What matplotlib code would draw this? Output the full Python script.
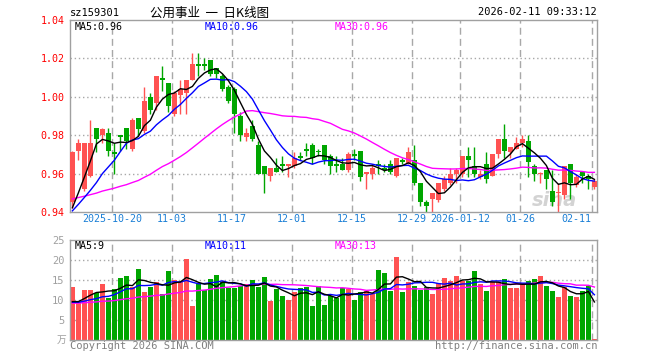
import matplotlib
matplotlib.use('Agg')
import matplotlib.pyplot as plt
import numpy as np
import pandas as pd

# ---------------- data ----------------
holidays = ['2026-01-01', '2026-01-02']
open_ = [0.945, 0.972, 0.952, 0.959, 0.984, 0.980, 0.981, 0.971, 0.980, 0.984,
         0.973, 0.989, 0.982, 1.000, 0.997, 1.010, 1.007, 0.991, 1.001, 1.002,
         1.009, 1.017, 1.017, 1.019, 1.015, 1.011, 1.005, 1.004, 0.990, 0.979,
         0.985, 0.975, 0.964, 0.959, 0.963, 0.965, 0.964, 0.964, 0.969, 0.973,
         0.975, 0.972, 0.975, 0.969, 0.965, 0.965, 0.962, 0.970, 0.972, 0.960,
         0.960, 0.965, 0.963, 0.965, 0.959, 0.967, 0.965, 0.967, 0.955, 0.945,
         0.947, 0.946, 0.952, 0.955, 0.960, 0.960, 0.969, 0.964, 0.958, 0.965,
         0.959, 0.970, 0.978, 0.971, 0.973, 0.976, 0.977, 0.964, 0.960, 0.962,
         0.951, 0.950, 0.949, 0.965, 0.954, 0.961, 0.959, 0.953]
high = [0.972, 0.978, 0.976, 0.988, 0.984, 0.984, 0.984, 0.976, 0.980, 0.984,
        0.989, 0.989, 1.005, 1.002, 1.011, 1.016, 1.007, 1.003, 1.009, 1.009,
        1.023, 1.023, 1.020, 1.019, 1.015, 1.012, 1.006, 1.005, 0.992, 0.984,
        0.988, 0.977, 0.964, 0.963, 0.968, 0.969, 0.965, 0.971, 0.971, 0.976,
        0.976, 0.973, 0.975, 0.970, 0.969, 0.968, 0.971, 0.973, 0.972, 0.961,
        0.965, 0.967, 0.965, 0.967, 0.968, 0.968, 0.974, 0.975, 0.955, 0.946,
        0.950, 0.955, 0.959, 0.963, 0.963, 0.969, 0.974, 0.974, 0.962, 0.971,
        0.970, 0.978, 0.986, 0.974, 0.979, 0.980, 0.980, 0.965, 0.961, 0.962,
        0.962, 0.955, 0.964, 0.965, 0.960, 0.961, 0.960, 0.957]
low = [0.942, 0.967, 0.951, 0.958, 0.971, 0.976, 0.969, 0.960, 0.972, 0.973,
       0.972, 0.980, 0.981, 0.991, 0.993, 1.003, 0.992, 0.990, 0.991, 0.991,
       1.009, 1.011, 1.014, 1.011, 1.010, 1.003, 0.997, 0.981, 0.977, 0.977,
       0.977, 0.960, 0.950, 0.956, 0.961, 0.961, 0.958, 0.963, 0.967, 0.969,
       0.965, 0.969, 0.965, 0.960, 0.961, 0.962, 0.961, 0.967, 0.956, 0.952,
       0.957, 0.960, 0.961, 0.960, 0.958, 0.965, 0.965, 0.954, 0.943, 0.940,
       0.940, 0.945, 0.951, 0.954, 0.955, 0.958, 0.958, 0.958, 0.957, 0.955,
       0.959, 0.968, 0.968, 0.968, 0.973, 0.974, 0.958, 0.956, 0.955, 0.952,
       0.943, 0.940, 0.947, 0.947, 0.953, 0.955, 0.952, 0.952]
close = [0.971, 0.976, 0.976, 0.976, 0.978, 0.983, 0.972, 0.970, 0.979, 0.977,
         0.988, 0.983, 0.998, 0.993, 1.011, 1.009, 0.995, 1.002, 1.004, 1.009,
         1.017, 1.016, 1.016, 1.012, 1.012, 1.004, 0.998, 0.991, 0.980, 0.981,
         0.978, 0.960, 0.960, 0.963, 0.961, 0.964, 0.965, 0.968, 0.968, 0.972,
         0.968, 0.971, 0.967, 0.964, 0.964, 0.962, 0.970, 0.969, 0.958, 0.961,
         0.963, 0.964, 0.962, 0.961, 0.968, 0.966, 0.971, 0.955, 0.945, 0.943,
         0.950, 0.955, 0.957, 0.960, 0.962, 0.969, 0.967, 0.960, 0.960, 0.957,
         0.970, 0.978, 0.972, 0.974, 0.976, 0.978, 0.966, 0.960, 0.960, 0.957,
         0.945, 0.950, 0.964, 0.955, 0.958, 0.959, 0.957, 0.956]
volume = [13.2, 9.4, 12.4, 12.6, 11.8, 13.9, 10.5, 12.8, 15.6, 15.9,
          13.2, 17.7, 12.0, 13.3, 14.6, 11.4, 17.2, 14.9, 14.5, 20.2,
          8.6, 13.9, 12.6, 15.2, 16.2, 14.5, 12.9, 12.9, 13.6, 13.9,
          14.9, 13.2, 15.7, 9.7, 12.8, 10.9, 9.9, 12.0, 12.9, 13.3,
          8.6, 13.6, 8.8, 11.1, 10.5, 13.0, 12.8, 10.1, 12.0, 12.2,
          11.5, 17.4, 16.8, 12.2, 20.7, 12.0, 14.5, 13.5, 12.5, 13.2,
          11.4, 14.3, 15.4, 14.7, 15.9, 14.7, 14.7, 17.2, 13.9, 12.2,
          14.5, 14.5, 15.2, 13.0, 13.0, 13.9, 14.7, 15.2, 15.9, 13.5,
          12.2, 10.7, 13.3, 10.9, 10.7, 12.2, 13.5, 0.25]
# closes / volumes of the 29 sessions before the window
prior_close = [0.953, 0.955, 0.952, 0.954, 0.951, 0.949, 0.947, 0.950, 0.952, 0.954,
               0.951, 0.948, 0.946, 0.949, 0.951, 0.950, 0.948, 0.947, 0.946, 0.944,
               0.942, 0.940, 0.939, 0.938, 0.936, 0.937, 0.935, 0.934, 0.934]
prior_volume = [9.2, 8.8, 9.5, 9.0, 8.7, 9.3, 9.1, 8.9, 9.4, 9.0,
                8.6, 9.2, 9.3, 8.8, 9.1, 9.4, 9.0, 8.9, 9.2, 9.3,
                9.4, 9.5, 9.0, 9.2, 9.2, 9.4, 8.6, 8.4, 8.4]
tick_dates = ['2025-10-20', '2025-11-03', '2025-11-17', '2025-12-01', '2025-12-15',
              '2025-12-29', '2026-01-12', '2026-01-26', '2026-02-11']
tick_labels = ['2025-10-20', '11-03', '11-17', '12-01', '12-15',
               '12-29', '2026-01-12', '01-26', '02-11']
price_ticks = [0.94, 0.96, 0.98, 1.00, 1.02, 1.04]
vol_ticks = [5, 10, 15, 20, 25]

code = 'sz159301'
title = '公用事业  一  日K线图'
stamp = '2026-02-11 09:33:12'

# ---------------- derived ----------------
dates = pd.bdate_range('2025-10-09', '2026-02-11')
dates = dates[~dates.isin(pd.to_datetime(holidays))]
n = len(close)
o = np.array(open_); h = np.array(high); l = np.array(low); c = np.array(close)
v = np.array(volume)
all_c = pd.Series(prior_close + close)
all_v = pd.Series(prior_volume + volume)
ma = {k: all_c.rolling(k).mean().values[-n:] for k in (5, 10, 30)}
vma = {k: all_v.rolling(k).mean().values[-n:] for k in (5, 10, 30)}
tick_idx = [int(np.where(dates == pd.Timestamp(d))[0][0]) for d in tick_dates]

RED = '#ff5252'
GREEN = '#00a600'
GRID = '#a8a8a8'
FRAME = '#a0a0a0'
BLUE_TXT = '#1a7fd6'
MONO = 'DejaVu Sans Mono'

W, H = 660, 360
fig = plt.figure(figsize=(W / 100, H / 100), dpi=100)
fig.patch.set_facecolor('white')

def rect(x0, y0, x1, y1):
    return [x0 / W, 1 - y1 / H, (x1 - x0) / W, (y1 - y0) / H]

def ftxt(x, y, s, **kw):
    fig.text(x / W, 1 - y / H, s, **kw)

ax = fig.add_axes(rect(70, 20, 597, 212))
axv = fig.add_axes(rect(70, 240, 597, 340))

slot_px = 6.0
xmax = (597 - 70) / slot_px
off = 0.4
bw = 5 / 6.0
xs = np.arange(n)
up = c >= o

for a in (ax, axv):
    a.set_xlim(0, xmax)
    for t in tick_idx:
        a.axvline(t, color=GRID, lw=1, ls=(0, (5, 3)), zorder=0)
    for s in a.spines.values():
        s.set_color(FRAME)
        s.set_linewidth(1)
    a.set_xticks([])
    a.tick_params(length=0)

# price panel
ax.set_ylim(price_ticks[0], price_ticks[-1])
for p in price_ticks[1:-1]:
    ax.axhline(p, color=GRID, lw=1, ls=(0, (1, 2)), zorder=0)
ax.set_yticks(price_ticks)
ax.set_yticklabels(['%.2f' % p for p in price_ticks], color='red',
                   fontsize=7.2, family=MONO)
ax.tick_params(axis='y', pad=4)
cols = np.where(up, RED, GREEN)
ax.vlines(xs + off, l, h, colors=cols, lw=1, zorder=2)
body_lo = np.minimum(o, c)
body_h = np.maximum(np.abs(c - o), 0.0004)
ax.bar(xs, body_h, bottom=body_lo, width=bw, align='edge', color=cols,
       edgecolor='none', zorder=3)
ax.plot(xs + off, ma[30], color='#ff00ff', lw=1, zorder=4)
ax.plot(xs + off, ma[10], color='#0000ff', lw=1, zorder=5)
ax.plot(xs + off, ma[5], color='black', lw=1, zorder=6)
ax.text(0.92, 0.06, 'sina', transform=ax.transAxes, fontsize=14, fontweight='bold',
        style='italic', color='#c8c8c8', alpha=0.8, ha='center', va='center', zorder=1)

# volume panel
axv.set_ylim(0, 25)
for p in vol_ticks[:-1]:
    axv.axhline(p, color=GRID, lw=1, ls=(0, (1, 2)), zorder=0)
axv.set_yticks(vol_ticks)
axv.set_yticklabels([str(t) for t in vol_ticks], color='#a0a0a0', fontsize=7.5,
                    family=MONO)
axv.tick_params(axis='y', pad=4)
axv.bar(xs, v, width=bw, align='edge', color=cols, edgecolor='none', zorder=2)
axv.plot(xs + off, vma[30], color='#ff00ff', lw=1, zorder=4)
axv.plot(xs + off, vma[10], color='#0000ff', lw=1, zorder=5)
axv.plot(xs + off, vma[5], color='black', lw=1, zorder=6)
ftxt(66, 340, '万', color='#a0a0a0', fontsize=7, family=['Noto Sans CJK SC'],
     ha='right', va='center')

# date labels
for t, lab in zip(tick_idx, tick_labels):
    xpx = 70 + slot_px * t
    if xpx + len(lab) * 3 > 597:
        ftxt(xpx - 1, 219, lab, color=BLUE_TXT, fontsize=7.2, family=MONO,
             ha='right', va='center')
    else:
        ftxt(xpx, 219, lab, color=BLUE_TXT, fontsize=7.2, family=MONO,
             ha='center', va='center')

# MA labels
last = n - 1
ftxt(75, 27, 'MA5:%.2f' % ma[5][last], color='black', fontsize=7.2, family=MONO, va='center')
ftxt(205, 27, 'MA10:%.2f' % ma[10][last], color='#0000ff', fontsize=7.2, family=MONO, va='center')
ftxt(335, 27, 'MA30:%.2f' % ma[30][last], color='#ff00ff', fontsize=7.2, family=MONO, va='center')
ftxt(75, 246, 'MA5:%d' % int(vma[5][last]), color='black', fontsize=7.2, family=MONO, va='center')
ftxt(205, 246, 'MA10:%d' % int(vma[10][last]), color='#0000ff', fontsize=7.2, family=MONO, va='center')
ftxt(335, 246, 'MA30:%d' % int(vma[30][last]), color='#ff00ff', fontsize=7.2, family=MONO, va='center')

# header / footer
ftxt(70, 13, code, color='black', fontsize=7.5, family=MONO, va='center')
ftxt(150, 13, title, color='black', fontsize=9, family=['Noto Sans CJK SC', 'DejaVu Sans'],
     va='center')
ftxt(597, 12, stamp, color='black', fontsize=7.5, family=MONO, ha='right', va='center')
ftxt(70, 346, 'Copyright 2026 SINA.COM', color='#808080', fontsize=7.5, family=MONO, va='center')
ftxt(597, 346, 'http://finance.sina.com.cn', color='#808080', fontsize=7.5, family=MONO,
     ha='right', va='center')

fig.savefig('out.png', dpi=100, facecolor='white')
